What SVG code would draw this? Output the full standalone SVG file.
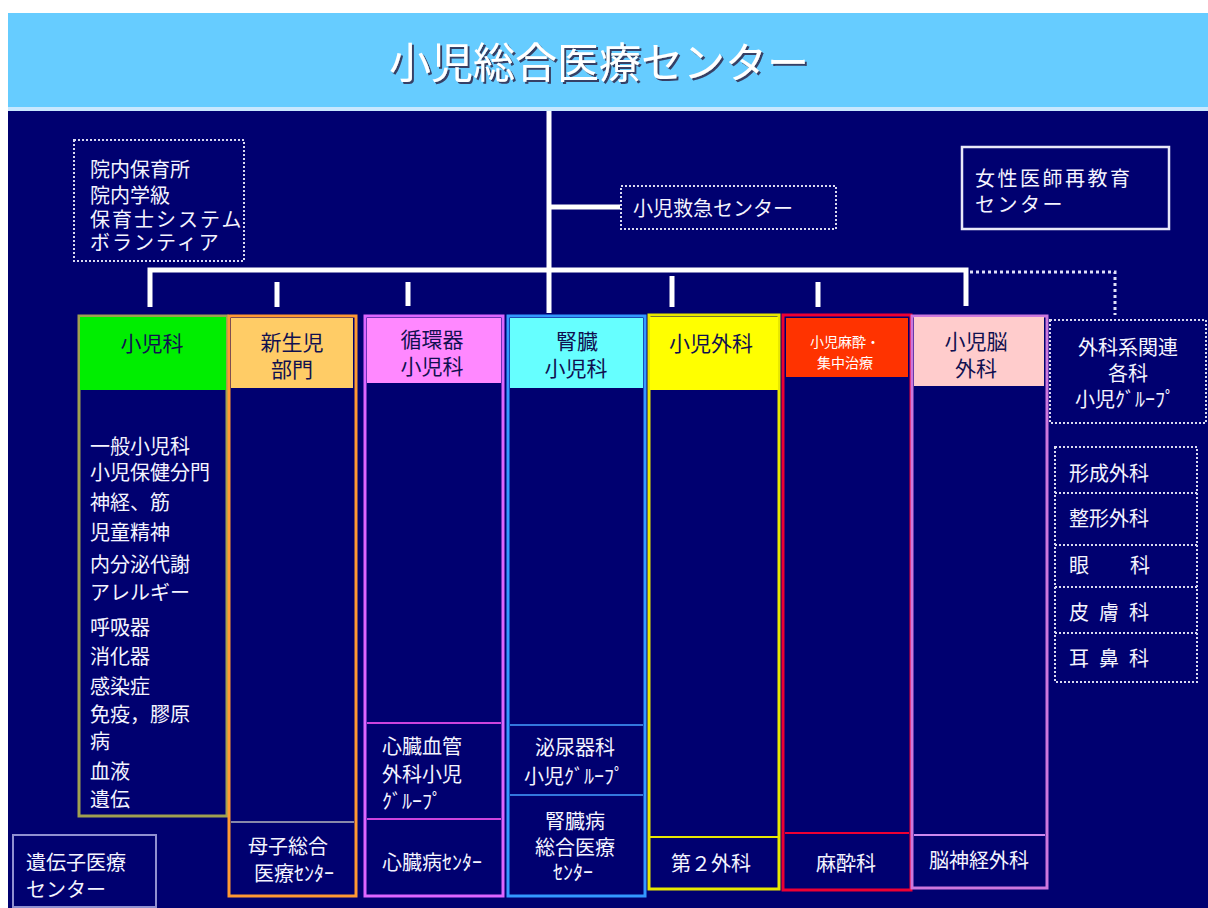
<svg xmlns="http://www.w3.org/2000/svg" width="1208" height="908" viewBox="0 0 1208 908">
<defs>
<style>
text{font-family:"Noto Sans CJK JP","Noto Sans",sans-serif;}
.w{fill:#F4F4FF;font-size:20px;}
.hd{fill:#101050;font-size:21px;text-anchor:middle;}
.c{text-anchor:middle;}
.ln{stroke:#FFFFFF;stroke-width:5;fill:none;}
.dot{stroke:#D8D8F0;stroke-width:2;stroke-dasharray:2 2;fill:none;}
.dotl{stroke:#E0E0F8;stroke-width:3;stroke-dasharray:3 3;fill:none;}
.col{fill:#000070;stroke-width:3;}
</style>
<filter id="sh" x="-10%" y="-10%" width="120%" height="130%">
<feDropShadow dx="2" dy="2" stdDeviation="0.6" flood-color="#333355" flood-opacity="0.9"/>
</filter>
</defs>
<rect x="0" y="0" width="1208" height="908" fill="#FFFFFF"/>
<rect x="8" y="13" width="1200" height="895" fill="#000070"/>
<g id="title">
<rect x="8" y="13" width="1200" height="95" fill="#66CCFF"/>
<rect x="8" y="107" width="1200" height="4" fill="#C8E8FF"/>
<text x="599" y="78" class="c" font-size="42" fill="#FFFFFF" filter="url(#sh)">小児総合医療センター</text>
</g>
<g id="connectors">
<line class="ln" x1="549" y1="111" x2="549" y2="313"/>
<line class="ln" x1="549" y1="207" x2="620" y2="207"/>
<polyline class="ln" points="150,307 150,270 966,270 966,306"/>
<line class="ln" x1="277" y1="282" x2="277" y2="307"/>
<line class="ln" x1="408" y1="282" x2="408" y2="306"/>
<line class="ln" x1="672" y1="276" x2="672" y2="307"/>
<line class="ln" x1="818" y1="282" x2="818" y2="307"/>
<polyline class="dotl" points="970,272 1115,272 1115,315"/>
</g>
<g id="hoikusho">
<rect class="dot" x="74" y="140" width="170" height="121"/>
<text class="w" x="90" y="177" font-size="21">院内保育所</text>
<text class="w" x="90" y="203" font-size="21">院内学級</text>
<text class="w" x="90" y="227" font-size="16" letter-spacing="2">保育士システム</text>
<text class="w" x="90" y="250" font-size="16" letter-spacing="2">ボランティア</text>
</g>
<g id="kyukyu">
<rect class="dot" x="621" y="186" width="215" height="43"/>
<text class="w" x="633" y="216" font-size="21">小児救急センター</text>
</g>
<g id="josei">
<rect x="962" y="147" width="207" height="82" fill="none" stroke="#E8E8F8" stroke-width="2.5"/>
<text class="w" x="975" y="186" font-size="21" letter-spacing="2.5">女性医師再教育</text>
<text class="w" x="975" y="212" font-size="21" letter-spacing="2.5">センター</text>
</g>
<g id="shonika">
<rect class="col" x="79" y="316" width="148" height="500" stroke="#A0A050"/>
<rect x="80" y="317" width="146" height="73" fill="#00EE00"/>
<text class="hd" x="152" y="351">小児科</text>
<g class="w" font-size="19">
<text x="90" y="454">一般小児科</text>
<text x="90" y="480">小児保健分門</text>
<text x="90" y="510">神経、筋</text>
<text x="90" y="540">児童精神</text>
<text x="90" y="572">内分泌代謝</text>
<text x="90" y="600">アレルギー</text>
<text x="90" y="635">呼吸器</text>
<text x="90" y="664">消化器</text>
<text x="90" y="694">感染症</text>
<text x="90" y="722">免疫，膠原</text>
<text x="90" y="749">病</text>
<text x="90" y="779">血液</text>
<text x="90" y="807">遺伝</text>
</g>
</g>
<g id="shinseiji">
<rect class="col" x="229" y="316" width="127" height="580" stroke="#FF9933"/>
<rect x="231" y="318" width="122" height="70" fill="#FFCC66"/>
<line x1="231" y1="822" x2="354" y2="822" stroke="#8888AA" stroke-width="2"/>
<text class="hd" x="292" y="350">新生児</text>
<text class="hd" x="292" y="377">部門</text>
<text class="w c" x="288" y="854">母子総合</text>
<text class="w c" x="294" y="881">医療ｾﾝﾀｰ</text>
</g>
<g id="junkanki">
<rect class="col" x="365" y="316" width="138" height="580" stroke="#DD66FF"/>
<rect x="367" y="318" width="134" height="65" fill="#FF88FF"/>
<line x1="367" y1="723" x2="501" y2="723" stroke="#CC44DD" stroke-width="2"/>
<line x1="367" y1="819" x2="501" y2="819" stroke="#CC44DD" stroke-width="2"/>
<text class="hd" x="432" y="347">循環器</text>
<text class="hd" x="432" y="374">小児科</text>
<text class="w" x="382" y="754">心臓血管</text>
<text class="w" x="382" y="782">外科小児</text>
<text class="w" x="382" y="809">ｸﾞﾙｰﾌﾟ</text>
<text class="w c" x="432" y="870">心臓病ｾﾝﾀｰ</text>
</g>
<g id="jinzo">
<rect class="col" x="508" y="316" width="137" height="580" stroke="#3399FF"/>
<rect x="510" y="318" width="133" height="70" fill="#66FFFF"/>
<line x1="510" y1="725" x2="643" y2="725" stroke="#3377DD" stroke-width="2"/>
<line x1="510" y1="795" x2="643" y2="795" stroke="#3377DD" stroke-width="2"/>
<text class="hd" x="577" y="349">腎臓</text>
<text class="hd" x="576" y="376">小児科</text>
<text class="w c" x="575" y="755">泌尿器科</text>
<text class="w c" x="574" y="784">小児ｸﾞﾙｰﾌﾟ</text>
<text class="w c" x="575" y="829">腎臓病</text>
<text class="w c" x="575" y="855">総合医療</text>
<text class="w c" x="573" y="880" font-size="18">ｾﾝﾀｰ</text>
</g>
<g id="geka">
<rect class="col" x="649" y="315" width="130" height="574" stroke="#E8E800"/>
<rect x="650" y="317" width="128" height="73" fill="#FFFF00"/>
<line x1="650" y1="837" x2="778" y2="837" stroke="#E8E800" stroke-width="2"/>
<text class="hd" x="711" y="351">小児外科</text>
<text class="w c" x="711" y="871" font-size="21">第２外科</text>
</g>
<g id="masui">
<rect class="col" x="783" y="315" width="128" height="575" stroke="#EE0033"/>
<rect x="786" y="318" width="122" height="59" fill="#FF3300"/>
<line x1="785" y1="833" x2="909" y2="833" stroke="#EE0033" stroke-width="2"/>
<text class="c" x="845" y="347" font-size="14" fill="#FFFFFF">小児麻酔・</text>
<text class="c" x="845" y="368" font-size="14" fill="#FFFFFF">集中治療</text>
<text class="w c" x="846" y="871" font-size="21">麻酔科</text>
</g>
<g id="nogeka">
<rect class="col" x="912" y="316" width="135" height="572" stroke="#CC77DD"/>
<rect x="914" y="317" width="130" height="69" fill="#FFCCCC"/>
<line x1="914" y1="835" x2="1045" y2="835" stroke="#CC88EE" stroke-width="2"/>
<text class="hd" x="976" y="349">小児脳</text>
<text class="hd" x="976" y="376">外科</text>
<text class="w c" x="979" y="868" font-size="21">脳神経外科</text>
</g>
<g id="gekakei">
<rect class="dot" x="1050" y="320" width="156" height="103"/>
<text class="w c" x="1128" y="355">外科系関連</text>
<text class="w c" x="1128" y="381">各科</text>
<text class="w c" x="1125" y="407">小児ｸﾞﾙｰﾌﾟ</text>
</g>
<g id="kakuka">
<rect class="dot" x="1055" y="447" width="142" height="235"/>
<line class="dot" x1="1055" y1="493" x2="1197" y2="493"/>
<line class="dot" x1="1055" y1="545" x2="1197" y2="545"/>
<line class="dot" x1="1055" y1="587" x2="1197" y2="587"/>
<line class="dot" x1="1055" y1="633" x2="1197" y2="633"/>
<text class="w" x="1069" y="481" font-size="22">形成外科</text>
<text class="w" x="1069" y="526" font-size="22">整形外科</text>
<text class="w" x="1069" y="573" font-size="22">眼<tspan x="1130">科</tspan></text>
<text class="w" x="1069" y="620" font-size="22" letter-spacing="10">皮膚科</text>
<text class="w" x="1069" y="666" font-size="22" letter-spacing="10">耳鼻科</text>
</g>
<g id="idenshi">
<rect x="13" y="835" width="143" height="72" fill="none" stroke="#9090D0" stroke-width="2"/>
<text class="w" x="26" y="870" font-size="22">遺伝子医療</text>
<text class="w" x="26" y="897" font-size="22">センター</text>
</g>
</svg>
